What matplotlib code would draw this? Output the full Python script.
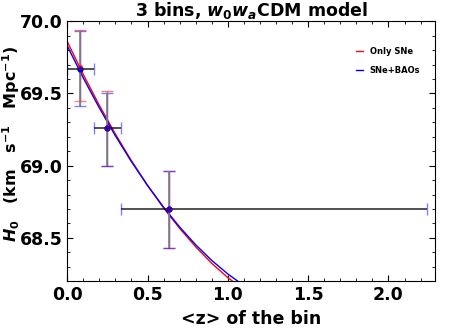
import matplotlib
matplotlib.use("Agg")
import matplotlib.pyplot as plt
from matplotlib.ticker import MultipleLocator

# bins
z_bin = [0.08, 0.25, 0.635]
z_lo = [0.08, 0.08, 0.30]
z_hi = [0.09, 0.085, 1.605]
h0_sne = [69.68, 69.26, 68.70]
err_sne_lo = [0.23, 0.26, 0.27]
err_sne_hi = [0.26, 0.26, 0.26]
h0_bao = [69.67, 69.26, 68.70]
err_bao_lo = [0.26, 0.26, 0.27]
err_bao_hi = [0.26, 0.24, 0.26]

# fitted curves
z_curve = [0.0, 0.1, 0.2, 0.3, 0.4, 0.5, 0.6, 0.7, 0.8, 0.9, 1.0, 1.1]
curve_sne = [69.86, 69.632, 69.418, 69.219, 69.034, 68.864, 68.708, 68.566, 68.438, 68.324, 68.225, 68.14]
curve_bao = [69.83, 69.608, 69.400, 69.207, 69.028, 68.863, 68.712, 68.575, 68.452, 68.344, 68.25, 68.17]

plt.rcParams['font.family'] = 'DejaVu Sans'
plt.rcParams['font.weight'] = 'bold'
plt.rcParams['mathtext.fontset'] = 'custom'
plt.rcParams['mathtext.rm'] = 'DejaVu Sans:bold'
plt.rcParams['mathtext.it'] = 'DejaVu Sans:italic:bold'
plt.rcParams['mathtext.bf'] = 'DejaVu Sans:bold'

fig = plt.figure(figsize=(4.57, 3.32), dpi=100)
ax = fig.add_axes([0.147, 0.153, 0.805, 0.783])

ax.plot(z_curve, curve_sne, color='red', lw=1.0, label='Only SNe')
ax.plot(z_curve, curve_bao, color='blue', lw=1.0, label='SNe+BAOs')

ax.errorbar(z_bin, h0_sne, yerr=[err_sne_lo, err_sne_hi], fmt='o', color='red', ms=3,
            ecolor='red', elinewidth=1, capsize=4, alpha=0.5)
ax.errorbar(z_bin, h0_bao, yerr=[err_bao_lo, err_bao_hi], fmt='o', color='blue', ms=3,
            ecolor='blue', elinewidth=1, capsize=4, alpha=0.5)
ax.errorbar(z_bin, h0_bao, xerr=[z_lo, z_hi], fmt='none', ecolor='black', elinewidth=1.2, capsize=0, alpha=0.8)
ax.errorbar(z_bin, h0_bao, yerr=[err_bao_lo, err_bao_hi], fmt='none', ecolor='gray', elinewidth=1.2, capsize=0)
ax.errorbar(z_bin, h0_bao, xerr=[z_lo, z_hi], fmt='none', ecolor='blue', elinewidth=0, capsize=4, alpha=0.5)
ax.plot(z_bin, h0_bao, 'o', color='#00008b', ms=3.5)

ax.set_xlim(0, 2.29)
ax.set_ylim(68.2, 70.0)
ax.xaxis.set_major_locator(MultipleLocator(0.5))
ax.xaxis.set_minor_locator(MultipleLocator(0.1))
ax.yaxis.set_major_locator(MultipleLocator(0.5))
ax.yaxis.set_minor_locator(MultipleLocator(0.1))
ax.tick_params(which='both', direction='in', top=True, right=True, labelsize=12.5)
ax.tick_params(which='major', length=4)
ax.tick_params(which='minor', length=2)
for lab in ax.get_xticklabels() + ax.get_yticklabels():
    lab.set_fontweight('bold')

ax.set_xlabel('<z> of the bin', fontsize=12.5, fontweight='bold')
ax.set_ylabel(r'$H_0$   (km   s$^{-1}$   Mpc$^{-1}$)', fontsize=11.5, fontweight='bold')
ax.yaxis.set_label_coords(-0.123, 0.53)
ax.set_title(r'3 bins, $w_0w_a$CDM model', fontsize=12.5, fontweight='bold', pad=4)

ax.legend(loc='upper right', frameon=False, handlelength=0.8, prop={'weight': 'bold', 'size': 6},
          bbox_to_anchor=(0.98, 0.93), labelspacing=1.2)

fig.savefig('out.png', dpi=100)
